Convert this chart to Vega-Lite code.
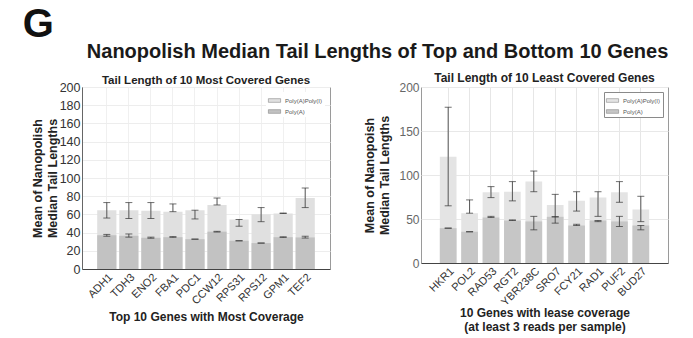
{
  "$schema": "https://vega.github.io/schema/vega-lite/v6.json",
  "background": "white",
  "padding": {"left": 22, "top": 4, "right": 5, "bottom": 4},
  "config": {
    "font": "Liberation Sans",
    "view": {"stroke": "#9a9a9a", "strokeWidth": 1},
    "axis": {"domainColor": "#555", "tickColor": "#555", "ticks": false, "tickSize": 0, "labelPadding": 2, "labelOverlap": false},
    "legend": {
      "title": null,
      "orient": "top-right",
      "offset": 5,
      "padding": 2,
      "rowPadding": 1,
      "fillColor": "white",
      "labelFontSize": 6,
      "labelColor": "#555",
      "symbolType": "M-1,-0.3H1V0.3H-1Z",
      "symbolSize": 150,
      "symbolStrokeColor": "#777",
      "symbolStrokeWidth": 0.5,
      "symbolOpacity": 1
    }
  },
  "title": {"text": "G", "anchor": "start", "fontSize": 40, "fontWeight": "bold", "color": "#111", "dx": -8, "offset": -3},
  "vconcat": [
    {
      "title": {"text": "Nanopolish Median Tail Lengths of Top and Bottom 10 Genes", "fontSize": 20, "fontWeight": "bold", "color": "#1a1a1a", "anchor": "middle", "dx": 28, "offset": 10},
      "spacing": 91,
      "bounds": "flush",
      "resolve": {"scale": {"color": "independent"}, "legend": {"color": "independent"}},
      "hconcat": [
        {
          "width": 248,
          "height": 182,
          "title": {"text": "Tail Length of 10 Most Covered Genes", "fontSize": 11.5, "fontWeight": "bold", "color": "#222", "offset": -5},
          "data": {"values": [
            {"gene": "ADH1", "pai": 64.6, "pai_lo": 56, "pai_hi": 73, "pa": 37, "pa_lo": 36, "pa_hi": 38},
            {"gene": "TDH3", "pai": 64.6, "pai_lo": 55.5, "pai_hi": 73, "pa": 36.5, "pa_lo": 35, "pa_hi": 38.5},
            {"gene": "ENO2", "pai": 64, "pai_lo": 55.5, "pai_hi": 73, "pa": 34.3, "pa_lo": 33.8, "pa_hi": 35},
            {"gene": "FBA1", "pai": 63, "pai_lo": 63, "pai_hi": 71.5, "pa": 35, "pa_lo": 34.8, "pa_hi": 35.6},
            {"gene": "PDC1", "pai": 64.6, "pai_lo": 55, "pai_hi": 64.6, "pa": 32.8, "pa_lo": 32.8, "pa_hi": 32.8},
            {"gene": "CCW12", "pai": 70.4, "pai_lo": 70.4, "pai_hi": 78, "pa": 41, "pa_lo": 40.6, "pa_hi": 41.4},
            {"gene": "RPS31", "pai": 54.4, "pai_lo": 47, "pai_hi": 54.4, "pa": 31, "pa_lo": 31, "pa_hi": 31},
            {"gene": "RPS12", "pai": 60.2, "pai_lo": 52, "pai_hi": 67.5, "pa": 28.5, "pa_lo": 28.5, "pa_hi": 28.5},
            {"gene": "GPM1", "pai": 61, "pai_lo": 61, "pai_hi": 61.5, "pa": 35, "pa_lo": 34.7, "pa_hi": 35.4},
            {"gene": "TEF2", "pai": 78, "pai_lo": 67.5, "pai_hi": 89, "pa": 34.7, "pa_lo": 34, "pa_hi": 36}
          ]},
          "encoding": {
            "x": {
              "field": "gene", "type": "nominal", "sort": null,
              "scale": {"paddingInner": 0.13, "paddingOuter": 0.69},
              "axis": {
                "title": "Top 10 Genes with Most Coverage", "titleFontSize": 12, "titleFontWeight": "bold", "titleColor": "#222", "titlePadding": 5,
                "labelAngle": -45, "labelFontSize": 11, "labelColor": "#333",
                "grid": true, "gridColor": "#f0f0f0", "bandPosition": 0.5, "domainColor": "#444"
              }
            }
          },
          "layer": [
            {
              "mark": {"type": "bar"},
              "encoding": {
                "y": {
                  "field": "pai", "type": "quantitative",
                  "scale": {"domain": [0, 200], "nice": false},
                  "axis": {
                    "title": ["Mean of Nanopolish", "Median Tail Lengths"], "titleFontSize": 12.5, "titleLineHeight": 15, "titleFontWeight": "bold", "titleColor": "#222", "titlePadding": 0,
                    "values": [0, 20, 40, 60, 80, 100, 120, 140, 160, 180, 200], "tickCount": 11, "labelOverlap": false,
                    "labelFontSize": 12.5, "labelColor": "#333", "grid": true, "gridColor": "#ededed", "domain": true, "domainColor": "#666"
                  }
                },
                "color": {
                  "datum": "Poly(A)Poly(I)",
                  "scale": {"domain": ["Poly(A)Poly(I)", "Poly(A)"], "range": ["#e0e0e0", "#c2c2c2"]},
                  "legend": {"strokeColor": null, "fillColor": null}
                }
              }
            },
            {
              "mark": {"type": "bar"},
              "encoding": {"y": {"field": "pa", "type": "quantitative"}, "color": {"datum": "Poly(A)"}}
            },
            {
              "mark": {"type": "rule", "color": "#555", "strokeWidth": 1},
              "encoding": {"y": {"field": "pai_lo", "type": "quantitative"}, "y2": {"field": "pai_hi"}}
            },
            {
              "mark": {"type": "tick", "color": "#333", "size": 7, "thickness": 1},
              "encoding": {"y": {"field": "pai_lo", "type": "quantitative"}}
            },
            {
              "mark": {"type": "tick", "color": "#333", "size": 7, "thickness": 1},
              "encoding": {"y": {"field": "pai_hi", "type": "quantitative"}}
            },
            {
              "mark": {"type": "rule", "color": "#555", "strokeWidth": 1},
              "encoding": {"y": {"field": "pa_lo", "type": "quantitative"}, "y2": {"field": "pa_hi"}}
            },
            {
              "mark": {"type": "tick", "color": "#333", "size": 7, "thickness": 1},
              "encoding": {"y": {"field": "pa_lo", "type": "quantitative"}}
            },
            {
              "mark": {"type": "tick", "color": "#333", "size": 7, "thickness": 1},
              "encoding": {"y": {"field": "pa_hi", "type": "quantitative"}}
            }
          ]
        },
        {
          "width": 247,
          "height": 176,
          "title": {"text": "Tail Length of 10 Least Covered Genes", "fontSize": 12, "fontWeight": "bold", "color": "#222", "offset": -4},
          "data": {"values": [
            {"gene": "HKR1", "pai": 120.8, "pai_lo": 65, "pai_hi": 177, "pa": 39.6, "pa_lo": 39.6, "pa_hi": 39.6},
            {"gene": "POL2", "pai": 56.6, "pai_lo": 56.6, "pai_hi": 71.7, "pa": 35.5, "pa_lo": 35.5, "pa_hi": 35.5},
            {"gene": "RAD53", "pai": 80.4, "pai_lo": 74.3, "pai_hi": 86.8, "pa": 51.7, "pa_lo": 51.7, "pa_hi": 53},
            {"gene": "RGT2", "pai": 81, "pai_lo": 70.6, "pai_hi": 92.5, "pa": 48.3, "pa_lo": 48.3, "pa_hi": 49},
            {"gene": "YBR238C", "pai": 92.5, "pai_lo": 81, "pai_hi": 104.5, "pa": 47.2, "pa_lo": 37.7, "pa_hi": 53},
            {"gene": "SRO7", "pai": 66, "pai_lo": 45.3, "pai_hi": 78, "pa": 52.5, "pa_lo": 52.5, "pa_hi": 52.5},
            {"gene": "FCY21", "pai": 70.6, "pai_lo": 59, "pai_hi": 81, "pa": 42.6, "pa_lo": 42.6, "pa_hi": 44},
            {"gene": "RAD1", "pai": 74.3, "pai_lo": 53, "pai_hi": 81, "pa": 48.3, "pa_lo": 47, "pa_hi": 48.3},
            {"gene": "PUF2", "pai": 80.4, "pai_lo": 69, "pai_hi": 92.5, "pa": 47.2, "pa_lo": 41.5, "pa_hi": 53},
            {"gene": "BUD27", "pai": 60.8, "pai_lo": 47, "pai_hi": 75.8, "pa": 42.6, "pa_lo": 37.7, "pa_hi": 42.6}
          ]},
          "encoding": {
            "x": {
              "field": "gene", "type": "nominal", "sort": null,
              "scale": {"paddingInner": 0.22, "paddingOuter": 0.88},
              "axis": {
                "title": ["10 Genes with lease coverage", "(at least 3 reads per sample)"], "titleFontSize": 12, "titleFontWeight": "bold", "titleColor": "#222", "titlePadding": 0,
                "labelAngle": -45, "labelFontSize": 11, "labelColor": "#333",
                "grid": true, "gridColor": "#e6e6e6", "bandPosition": 0.5, "domainColor": "#444"
              }
            }
          },
          "layer": [
            {
              "mark": {"type": "bar"},
              "encoding": {
                "y": {
                  "field": "pai", "type": "quantitative",
                  "scale": {"domain": [0, 200], "nice": false},
                  "axis": {
                    "title": ["Mean of Nanopoish", "Median Tail Lengths"], "titleFontSize": 12.5, "titleLineHeight": 15, "titleFontWeight": "bold", "titleColor": "#222", "titlePadding": 7,
                    "values": [0, 50, 100, 150, 200], "tickCount": 5,
                    "labelFontSize": 12, "labelColor": "#666", "grid": true, "gridColor": "#e8e8e8", "domain": false
                  }
                },
                "color": {
                  "datum": "Poly(A)Poly(I)",
                  "scale": {"domain": ["Poly(A)Poly(I)", "Poly(A)"], "range": ["#e4e4e4", "#c6c6c6"]},
                  "legend": {"strokeColor": "#8a8a8a"}
                }
              }
            },
            {
              "mark": {"type": "bar"},
              "encoding": {"y": {"field": "pa", "type": "quantitative"}, "color": {"datum": "Poly(A)"}}
            },
            {
              "mark": {"type": "rule", "color": "#555", "strokeWidth": 1},
              "encoding": {"y": {"field": "pai_lo", "type": "quantitative"}, "y2": {"field": "pai_hi"}}
            },
            {
              "mark": {"type": "tick", "color": "#333", "size": 7, "thickness": 1},
              "encoding": {"y": {"field": "pai_lo", "type": "quantitative"}}
            },
            {
              "mark": {"type": "tick", "color": "#333", "size": 7, "thickness": 1},
              "encoding": {"y": {"field": "pai_hi", "type": "quantitative"}}
            },
            {
              "mark": {"type": "rule", "color": "#555", "strokeWidth": 1},
              "encoding": {"y": {"field": "pa_lo", "type": "quantitative"}, "y2": {"field": "pa_hi"}}
            },
            {
              "mark": {"type": "tick", "color": "#333", "size": 7, "thickness": 1},
              "encoding": {"y": {"field": "pa_lo", "type": "quantitative"}}
            },
            {
              "mark": {"type": "tick", "color": "#333", "size": 7, "thickness": 1},
              "encoding": {"y": {"field": "pa_hi", "type": "quantitative"}}
            }
          ]
        }
      ]
    }
  ]
}
